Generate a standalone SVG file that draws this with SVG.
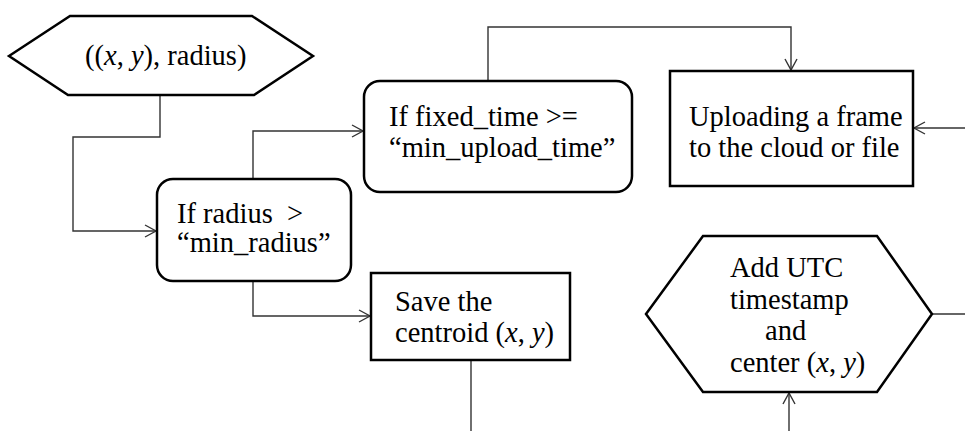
<svg xmlns="http://www.w3.org/2000/svg" width="965" height="431" viewBox="0 0 965 431">
<style>
.shape{fill:#fff;stroke:#000;stroke-width:2.5;stroke-linejoin:miter}
.conn{fill:none;stroke:#333;stroke-width:1.4}
.t{font-family:"Liberation Serif","Times New Roman",serif;font-size:28.5px;fill:#000}
.it{font-style:italic}
</style>
<defs>
<marker id="arr" markerUnits="userSpaceOnUse" markerWidth="14" markerHeight="14" viewBox="0 0 14 14" refX="12" refY="7" orient="auto">
<path d="M1,1 L12,7 L1,13" fill="none" stroke="#333" stroke-width="1.4"/>
</marker>
</defs>
<rect width="965" height="431" fill="#fff"/>
<g id="connectors">
<polyline class="conn" points="160,95 160,137 73,137 73,231 156,231" marker-end="url(#arr)"/>
<polyline class="conn" points="253,179 253,131 363,131" marker-end="url(#arr)"/>
<polyline class="conn" points="253,281 253,316 370,316" marker-end="url(#arr)"/>
<polyline class="conn" points="488,81 488,27 791,27 791,70" marker-end="url(#arr)"/>
<polyline class="conn" points="965,128 914,128" marker-end="url(#arr)"/>
<polyline class="conn" points="932,314 965,314"/>
<polyline class="conn" points="471,361 471,431"/>
<polyline class="conn" points="789,431 789,393" marker-end="url(#arr)"/>
</g>
<g id="input">
<polygon class="shape" points="9,56 70,16 252,16 313,56 254,95 68,95"/>
<text class="t" x="85" y="65">((<tspan class="it">x</tspan>, <tspan class="it">y</tspan>), radius)</text>
</g>
<g id="check-radius">
<rect class="shape" x="157" y="179" width="194" height="102" rx="16"/>
<text class="t" x="177" y="223">If radius&#160; &gt;</text>
<text class="t" x="177" y="252">“min_radius”</text>
</g>
<g id="check-time">
<rect class="shape" x="364" y="81" width="268" height="111" rx="16"/>
<text class="t" x="389" y="126">If fixed_time &gt;=</text>
<text class="t" x="389" y="157">“min_upload_time”</text>
</g>
<g id="upload">
<rect class="shape" x="670" y="71" width="243" height="115"/>
<text class="t" x="689" y="126">Uploading a frame</text>
<text class="t" x="689" y="157">to the cloud or file</text>
</g>
<g id="save">
<rect class="shape" x="371" y="273" width="199" height="87"/>
<text class="t" x="395" y="311">Save the</text>
<text class="t" x="395" y="342">centroid (<tspan class="it">x</tspan>, <tspan class="it">y</tspan>)</text>
</g>
<g id="timestamp">
<polygon class="shape" points="646,314 703,236 877,236 932,314 877,392 703,392"/>
<text class="t" x="730" y="277">Add UTC</text>
<text class="t" x="730" y="309">timestamp</text>
<text class="t" x="765" y="340">and</text>
<text class="t" x="730" y="372">center (<tspan class="it">x</tspan>, <tspan class="it">y</tspan>)</text>
</g>
</svg>
